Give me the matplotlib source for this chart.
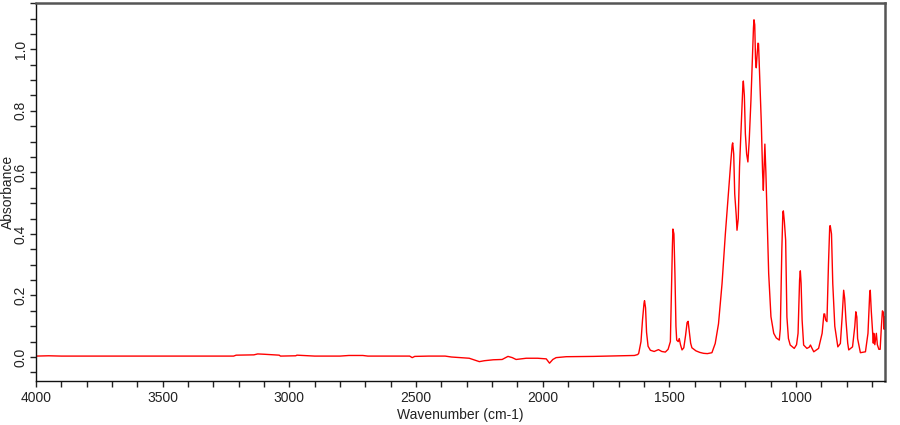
import matplotlib
matplotlib.use("Agg")
import matplotlib.pyplot as plt
from matplotlib.ticker import MultipleLocator

plt.rcParams['font.family'] = ['Liberation Sans', 'DejaVu Sans']

# wavenumbers (cm-1)
wavenumber = [
    4000, 3950, 3900, 3850, 3800, 3700, 3600, 3500, 3400, 3300, 3220, 3210,
    3140, 3125, 3100, 3040, 3035, 2975, 2970, 2900, 2800, 2765, 2710, 2690,
    2600, 2525, 2515, 2505, 2450, 2385, 2360, 2290, 2250, 2230, 2195, 2160,
    2137, 2120, 2105, 2065, 2020, 1986, 1973, 1960, 1947, 1907, 1800, 1700,
    1638, 1625, 1621, 1612, 1606, 1600, 1598, 1594, 1590, 1584, 1575, 1560,
    1543, 1530, 1516, 1505, 1496, 1492, 1488, 1486, 1482, 1478, 1474, 1471,
    1465, 1461, 1456, 1450, 1443, 1436, 1430, 1426, 1421, 1416, 1411, 1395,
    1380, 1365, 1350, 1332, 1319, 1306, 1292, 1279, 1269, 1257, 1252, 1250,
    1246, 1242, 1236, 1233, 1228, 1223, 1215, 1210, 1208, 1204, 1200, 1195,
    1190, 1185, 1178, 1172, 1168, 1166, 1163, 1160, 1157, 1153, 1150, 1148,
    1143, 1137, 1132, 1129, 1126, 1123, 1119, 1115, 1108, 1099, 1088, 1078,
    1066, 1062, 1056, 1052, 1050, 1046, 1041, 1036, 1030, 1023, 1007, 998,
    992, 986, 983, 980, 976, 970, 957, 948, 943, 938, 930, 911, 897, 890,
    887, 883, 878, 872, 867, 865, 860, 855, 847, 835, 825, 818, 812, 808,
    803, 796, 792, 777, 768, 764, 760, 757, 746, 726, 716, 709, 707, 703,
    699, 695, 693, 689, 683, 679, 673, 668, 663, 659, 655, 652, 650,
]

absorbance = [
    0.003, 0.004, 0.003, 0.003, 0.003, 0.003, 0.003, 0.003, 0.003, 0.003, 0.003, 0.006,
    0.007, 0.010, 0.009, 0.006, 0.003, 0.004, 0.006, 0.003, 0.003, 0.005, 0.005, 0.003,
    0.003, 0.003, -0.002, 0.002, 0.003, 0.003, 0.000, -0.004, -0.015, -0.012, -0.009, -0.008,
    0.002, -0.002, -0.008, -0.004, -0.004, -0.006, -0.020, -0.008, -0.002, 0.001, 0.002, 0.004,
    0.005, 0.008, 0.012, 0.050, 0.120, 0.175, 0.183, 0.160, 0.080, 0.035, 0.022, 0.018,
    0.024, 0.018, 0.016, 0.025, 0.050, 0.210, 0.360, 0.416, 0.400, 0.270, 0.100, 0.055,
    0.050, 0.060, 0.040, 0.023, 0.030, 0.070, 0.112, 0.116, 0.080, 0.045, 0.030, 0.020,
    0.015, 0.012, 0.011, 0.014, 0.044, 0.108, 0.239, 0.400, 0.510, 0.640, 0.690, 0.696,
    0.660, 0.530, 0.460, 0.412, 0.450, 0.618, 0.780, 0.880, 0.897, 0.850, 0.726, 0.660,
    0.634, 0.700, 0.834, 0.980, 1.070, 1.096, 1.080, 0.970, 0.940, 0.990, 1.020, 1.018,
    0.900, 0.759, 0.600, 0.542, 0.620, 0.692, 0.600, 0.477, 0.272, 0.131, 0.077, 0.062,
    0.055, 0.092, 0.350, 0.470, 0.475, 0.440, 0.380, 0.130, 0.060, 0.039, 0.028, 0.040,
    0.077, 0.250, 0.280, 0.240, 0.120, 0.039, 0.028, 0.032, 0.039, 0.030, 0.017, 0.028, 0.077, 0.140,
    0.140, 0.120, 0.115, 0.300, 0.425, 0.427, 0.400, 0.239, 0.100, 0.033, 0.044, 0.130, 0.217, 0.190,
    0.120, 0.045, 0.023, 0.033, 0.100, 0.147, 0.130, 0.060, 0.014, 0.017, 0.077, 0.210, 0.217, 0.150,
    0.100, 0.045, 0.077, 0.040, 0.077, 0.040, 0.025, 0.025, 0.100, 0.150, 0.145, 0.090, 0.130,
]

fig = plt.figure(figsize=(9, 4.25), dpi=100)
ax = fig.add_axes([0.04, 0.1035, 0.943, 0.889])

ax.plot(wavenumber, absorbance, color='#ff0000', lw=1.0)

ax.set_xlim(4000, 650)
ax.set_ylim(-0.078, 1.15)

ax.xaxis.set_major_locator(MultipleLocator(500))
ax.xaxis.set_minor_locator(MultipleLocator(100))
ax.yaxis.set_major_locator(MultipleLocator(0.2))
ax.yaxis.set_minor_locator(MultipleLocator(0.05))
ax.yaxis.set_major_formatter(matplotlib.ticker.FormatStrFormatter('%.1f'))

ax.tick_params(which='both', direction='out', length=4.5, width=1, color='#222222',
               labelsize=10, labelcolor='#222222')
ax.tick_params(axis='x', pad=3)
ax.tick_params(axis='y', pad=1.5)
for lab in ax.get_yticklabels():
    lab.set_rotation(90)
    lab.set_va('center')

for side in ['left', 'bottom']:
    ax.spines[side].set_color('#111111')
    ax.spines[side].set_linewidth(1.0)
for side in ['top', 'right']:
    ax.spines[side].set_color('#555555')
    ax.spines[side].set_linewidth(1.8)

ax.set_xlabel('Wavenumber (cm-1)', fontsize=10, color='#222222', labelpad=2)
ax.set_ylabel('Absorbance', fontsize=10, color='#222222')
ax.yaxis.set_label_coords(-0.0245, 0.5)

fig.savefig('out.png', dpi=100)
